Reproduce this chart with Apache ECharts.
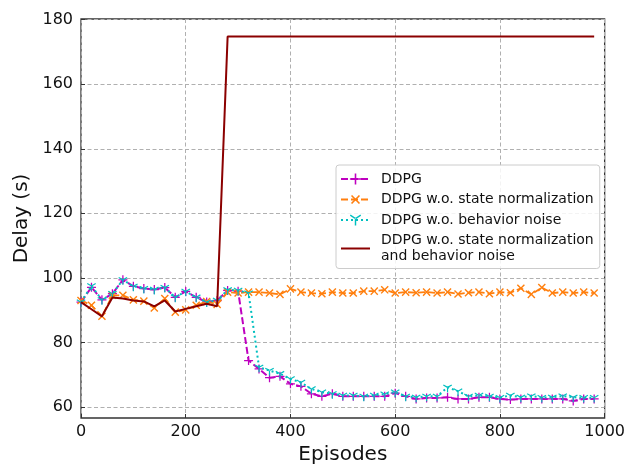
<!DOCTYPE html>
<html>
<head>
<meta charset="utf-8">
<script src="https://cdn.jsdelivr.net/npm/echarts@6/dist/echarts.min.js"></script>
<style>html,body{margin:0;padding:0;background:#fff}#c{width:628px;height:470px}</style>
</head>
<body>
<div id="c"></div>
<script>
const episodes = [0,20,40,60,80,100,120,140,160,180,200,220,240,260,280,300,320,340,360,380,400,420,440,460,480,500,520,540,560,580,600,620,640,660,680,700,720,740,760,780,800,820,840,860,880,900,920,940,960,980];
const ddpg = [92.5,97.1,93.2,95.1,99.4,97.4,96.7,96.4,97.0,94.0,95.8,94.0,92.5,93.0,96.1,95.9,74.4,71.8,69.1,69.5,67.2,66.4,64.1,63.3,64.1,63.3,63.3,63.3,63.3,63.3,64.3,63.3,62.5,62.8,62.8,63.0,62.5,62.5,63.0,63.0,62.5,62.3,62.5,62.5,62.5,62.5,62.5,61.9,62.5,62.5];
const noNorm = [93.0,91.5,88.1,94.6,94.6,93.2,92.8,90.7,93.6,89.4,90.1,91.5,92.7,91.8,95.6,95.3,95.6,95.6,95.3,94.9,96.6,95.6,95.3,95.1,95.6,95.3,95.3,95.9,95.9,96.3,95.3,95.6,95.4,95.6,95.3,95.6,95.0,95.4,95.6,95.1,95.6,95.4,96.8,94.9,97.0,95.3,95.6,95.3,95.6,95.3];
const noNoise = [92.5,97.5,93.2,95.1,99.4,97.4,96.7,96.4,97.0,94.0,95.8,94.0,92.5,93.0,96.3,96.1,95.3,72.3,71.3,70.3,68.7,67.6,65.6,64.6,64.1,63.6,63.6,63.3,63.6,64.0,64.6,63.3,63.0,63.3,63.3,66.1,64.9,63.3,63.6,63.3,62.9,63.6,63.0,63.4,62.9,63.0,63.4,63.0,62.9,62.9];
const noBoth = [92.5,90.3,88.1,93.9,93.6,93.0,92.7,91.2,93.0,89.6,90.4,91.2,92.0,91.2,174.8,174.8,174.8,174.8,174.8,174.8,174.8,174.8,174.8,174.8,174.8,174.8,174.8,174.8,174.8,174.8,174.8,174.8,174.8,174.8,174.8,174.8,174.8,174.8,174.8,174.8,174.8,174.8,174.8,174.8,174.8,174.8,174.8,174.8,174.8,174.8];
const seriesNames = ['DDPG','DDPG w.o. state normalization','DDPG w.o. behavior noise','DDPG w.o. state normalization\nand behavior noise'];
const yTicks = [60,80,100,120,140,160,180];
const xTicks = [0,200,400,600,800,1000];

const FONT = 'DejaVu Sans';
const PLUS = 'path://M-0.14,-1H0.14V-0.14H1V0.14H0.14V1H-0.14V0.14H-1V-0.14H-0.14Z';
const TRI = 'path://M-0.12,0L0.12,0L0.12,1L-0.12,1Z M-0.06,-0.104L0.806,-0.604L0.926,-0.396L0.06,0.104Z M0.06,-0.104L-0.806,-0.604L-0.926,-0.396L-0.06,0.104Z';

function pairs(ys){ return episodes.map((x,i)=>[x, ys[i]]); }

const chart = echarts.init(document.getElementById('c'), null, {renderer:'canvas'});
chart.setOption({
  animation:false,
  backgroundColor:'#fff',
  textStyle:{fontFamily:FONT},
  grid:{left:81,right:23,top:19,bottom:52,containLabel:false,show:true,borderColor:'#333',borderWidth:1.3,backgroundColor:'transparent'},
  xAxis:{
    type:'value',min:0,max:1000,interval:200,
    name:'Episodes',nameLocation:'middle',nameGap:27,
    nameTextStyle:{fontFamily:FONT,fontSize:20,color:'#111'},
    axisLine:{show:false},
    axisTick:{show:true,inside:true,length:4,lineStyle:{color:'#333',width:1}},
    axisLabel:{fontFamily:FONT,fontSize:16,color:'#111',margin:6,customValues:xTicks,formatter:function(v){return String(v);}},
    splitLine:{show:true,lineStyle:{color:'#b0b0b0',width:1,type:[4,2.5]}}
  },
  yAxis:{
    type:'value',min:56.6,max:180.2,splitNumber:6,
    name:'Delay (s)',nameLocation:'middle',nameGap:48,
    nameTextStyle:{fontFamily:FONT,fontSize:20,color:'#111'},
    axisLine:{show:false},
    axisTick:{show:true,inside:true,length:4,lineStyle:{color:'#333',width:1},customValues:yTicks},
    axisLabel:{fontFamily:FONT,fontSize:16,color:'#111',margin:8,customValues:yTicks,formatter:function(v){return String(v);}},
    splitLine:{show:true,lineStyle:{color:'#b0b0b0',width:1,type:[4,2.5]}}
  },
  legend:{
    orient:'vertical',left:336,top:165,
    padding:[6,6,4,4],itemGap:4.5,itemWidth:29,itemHeight:14,
    backgroundColor:'rgba(255,255,255,0.85)',borderColor:'#cccccc',borderWidth:1,borderRadius:3,
    textStyle:{fontFamily:FONT,fontSize:14,color:'#111',lineHeight:16,padding:[0,0,0,6]},
    data:[
      {name:seriesNames[0]},
      {name:seriesNames[1]},
      {name:seriesNames[2]},
      {name:seriesNames[3],itemStyle:{opacity:0}}
    ]
  },
  series:[
    {name:seriesNames[0],type:'line',data:pairs(ddpg),z:2,
     symbol:PLUS,symbolSize:9,showAllSymbol:true,
     itemStyle:{color:'#bf00bf'},lineStyle:{color:'#bf00bf',width:2,type:[7,3]}},
    {name:seriesNames[1],type:'line',data:pairs(noNorm),z:3,
     symbol:PLUS,symbolRotate:45,symbolSize:10,showAllSymbol:true,
     itemStyle:{color:'#ff7f0e'},lineStyle:{color:'#ff7f0e',width:1.8,type:[7,3]}},
    {name:seriesNames[2],type:'line',data:pairs(noNoise),z:4,
     symbol:TRI,symbolSize:[9,7.8],symbolOffset:[0,1],showAllSymbol:true,
     itemStyle:{color:'#00bfbf'},lineStyle:{color:'#00bfbf',width:2,type:[2,3]}},
    {name:seriesNames[3],type:'line',data:pairs(noBoth),z:5,
     symbol:'none',
     itemStyle:{color:'#8b0000'},lineStyle:{color:'#8b0000',width:2}}
  ]
});
</script>
</body>
</html>
